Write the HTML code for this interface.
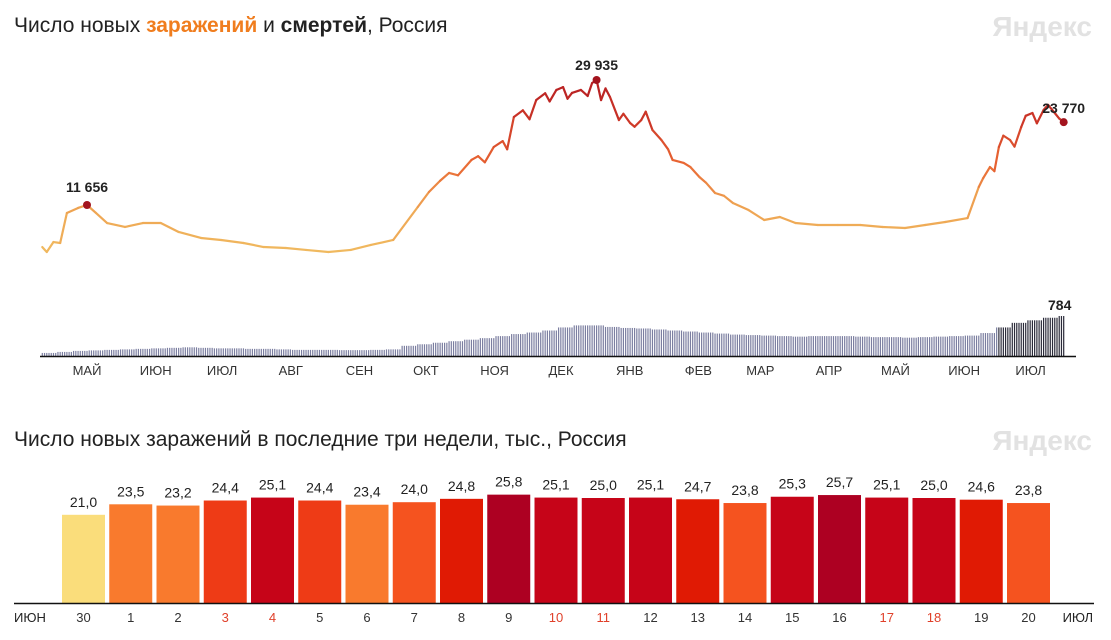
<!DOCTYPE html>
<html><head><meta charset="utf-8">
<style>
body{margin:0;background:#fff;font-family:"Liberation Sans","DejaVu Sans",sans-serif;}
svg{display:block}
</style></head>
<body>
<svg id="chart" width="1111" height="640" viewBox="0 0 1111 640">
<text x="14" y="32" font-size="21" fill="#222">Число новых <tspan fill="#f07d1e" font-weight="bold">заражений</tspan> и <tspan font-weight="bold">смертей</tspan>, Россия</text>
<text x="1092" y="36" font-size="28" font-weight="bold" fill="#e2e2e2" text-anchor="end">Яндекс</text>
<text x="14" y="446" font-size="21" fill="#222">Число новых заражений в последние три недели, тыс., Россия</text>
<text x="1092" y="450" font-size="28" font-weight="bold" fill="#e2e2e2" text-anchor="end">Яндекс</text>
<g id="deaths"></g>
<g id="line"></g>
<g id="ann"></g>
<line x1="40" y1="356.5" x2="1076" y2="356.5" stroke="#111" stroke-width="1.5"/>
<g id="months"></g>
<g id="bars"></g>
<line x1="14" y1="603.5" x2="1094" y2="603.5" stroke="#111" stroke-width="1.5"/>
<text x="14" y="622" font-size="13" fill="#222">ИЮН</text>
<text x="1093" y="622" font-size="13" fill="#222" text-anchor="end">ИЮЛ</text>
</svg>
<script>
// days since 2020-05-01 and new cases
const caseDays = [-20,-18,-15,-12,-9,-4,0,4,9,17,25,33,41,51,60,70,79,89,98,108,118,127,137,148,153,158,162,166,172,175,178,182,186,188,191,195,198,201,205,207,210,213,215,217,221,224,226,228,230,232,234,238,240,243,245,248,250,253,257,260,262,267,270,274,277,281,285,289,296,303,310,317,327,336,346,356,366,375,384,394,399,401,404,406,408,410,413,415,418,420,423,425,428,430,433,435,437];
const caseValues = [5500,4780,6240,6100,10490,11220,11656,10490,9020,8440,9020,9020,7710,6830,6540,6100,5510,5370,5080,4780,5080,5810,6540,11360,13560,15200,16340,16000,18240,18800,17900,20140,21000,19800,24530,25500,24200,27010,28000,26800,28480,28900,27200,28040,28480,27600,29500,29935,27000,28700,27450,24080,25000,23650,23100,24080,25300,22620,21160,19800,18240,17800,17200,15750,14900,13410,13000,11950,10920,9460,9900,9020,8730,8730,8730,8440,8290,8730,9170,9750,14290,15600,17210,16600,20140,21800,21160,20200,23060,24700,25110,23600,25550,26300,25110,24300,23770];
// weekly deaths
const deathWeeks = [60,80,100,110,120,130,140,150,160,170,160,150,150,140,140,130,120,120,120,115,115,120,130,200,230,260,290,320,350,390,430,460,500,560,600,600,570,550,540,520,500,480,460,440,420,410,400,390,380,390,390,390,380,370,370,360,370,380,390,400,450,560,650,700,750,784];
const monthNames = ["МАЙ","ИЮН","ИЮЛ","АВГ","СЕН","ОКТ","НОЯ","ДЕК","ЯНВ","ФЕВ","МАР","АПР","МАЙ","ИЮН","ИЮЛ"];
const monthDays = [0,31,61,92,123,153,184,214,245,276,304,335,365,396,426];
const recentDays = ["30","1","2","3","4","5","6","7","8","9","10","11","12","13","14","15","16","17","18","19","20"];
const recentValues = [21.0,23.5,23.2,24.4,25.1,24.4,23.4,24.0,24.8,25.8,25.1,25.0,25.1,24.7,23.8,25.3,25.7,25.1,25.0,24.6,23.8];
const weekendDays = ["3","4","10","11","17","18"];

const NS="http://www.w3.org/2000/svg";
function mk(tag,attrs,parent){const e=document.createElementNS(NS,tag);for(const k in attrs)e.setAttribute(k,attrs[k]);parent.appendChild(e);return e;}
const xDay=d=>87+d*2.235;
const xMonth=d=>87+d*2.215;
const yCase=v=>284.7-v*0.006838;
const yDeath=v=>356-v*0.051;
function lerp(a,b,t){return Math.round(a+(b-a)*t);}
function caseColor(v){
  const stops=[[5000,[240,185,95]],[12000,[238,160,80]],[18000,[232,100,50]],[24000,[205,55,40]],[30000,[180,28,34]]];
  if(v<=stops[0][0])return `rgb(${stops[0][1]})`;
  for(let i=1;i<stops.length;i++){if(v<=stops[i][0]){const t=(v-stops[i-1][0])/(stops[i][0]-stops[i-1][0]);const a=stops[i-1][1],b=stops[i][1];return `rgb(${lerp(a[0],b[0],t)},${lerp(a[1],b[1],t)},${lerp(a[2],b[2],t)})`;}}
  return `rgb(${stops[stops.length-1][1]})`;
}
const lineG=document.getElementById('line');
for(let i=1;i<caseDays.length;i++){
  const s=mk('line',{x1:xDay(caseDays[i-1]),y1:yCase(caseValues[i-1]),x2:xDay(caseDays[i]),y2:yCase(caseValues[i]),stroke:caseColor((caseValues[i]+caseValues[i-1])/2),'stroke-width':2.2,'stroke-linecap':'round'},lineG);
  
  
}
const ann=document.getElementById('ann');
function annot(idx,dx,dy,anchor,name){
  const c=mk('circle',{cx:xDay(caseDays[idx]),cy:yCase(caseValues[idx]),r:4,fill:'#a3141e'},ann);
  
  
  const t=mk('text',{x:xDay(caseDays[idx])+dx,y:yCase(caseValues[idx])+dy,'font-size':14,'font-weight':'bold',fill:'#222','text-anchor':anchor},ann);
  t.textContent=caseValues[idx].toLocaleString('ru-RU').replace(/\s/g,' ');
  
  
}
annot(caseValues.indexOf(11656),0,-13,'middle','first-peak');
annot(caseValues.indexOf(29935),0,-10,'middle','second-peak');
annot(caseValues.length-1,0,-9,'middle','latest');
const dg=document.getElementById('deaths');
const startDay=-20;
for(let w=0;w<deathWeeks.length;w++){
  for(let k=0;k<7;k++){
    const d=startDay+w*7+k;
    if(d>437)continue;
    const v=deathWeeks[w];
    const r=mk('rect',{x:xDay(d)-0.6,y:yDeath(v),width:1.2,height:356-yDeath(v),fill:d>=408?'#2b2b3a':'#7b7ea0'},dg);
    
    
  }
}
const dl=mk('text',{x:xDay(437)-4,y:yDeath(deathWeeks[deathWeeks.length-1])-6,'font-size':14,'font-weight':'bold',fill:'#222','text-anchor':'middle'},dg);
dl.textContent=String(deathWeeks[deathWeeks.length-1]);


const mg=document.getElementById('months');
monthNames.forEach((m,i)=>{
  const t=mk('text',{x:xMonth(monthDays[i]),y:375,'font-size':13,fill:'#333','text-anchor':'middle'},mg);
  t.textContent=m;
  
  
});
const bg=document.getElementById('bars');
const yRec=v=>603-v*4.2;
function recColor(v){
  if(v<22)return '#fadd7b';
  if(v<23.6)return '#f97a2d';
  if(v<24.2)return '#f5531f';
  if(v<24.5)return '#ee3b16';
  if(v<24.9)return '#e01a04';
  if(v<25.5)return '#c60418';
  return '#ad0022';
}
recentValues.forEach((v,i)=>{
  const x=62+i*47.25;
  const r=mk('rect',{x:x,y:yRec(v),width:43,height:603-yRec(v),fill:recColor(v)},bg);
  
  
  const t=mk('text',{x:x+21.5,y:yRec(v)-8,'font-size':14,fill:'#222','text-anchor':'middle'},bg);
  t.textContent=v.toFixed(1).replace('.',',');
  
  
  const dlab=mk('text',{x:x+21.5,y:622,'font-size':13,fill:weekendDays.includes(recentDays[i])?'#e0402a':'#333','text-anchor':'middle'},bg);
  dlab.textContent=recentDays[i];
  
  
});
</script>
</body></html>
